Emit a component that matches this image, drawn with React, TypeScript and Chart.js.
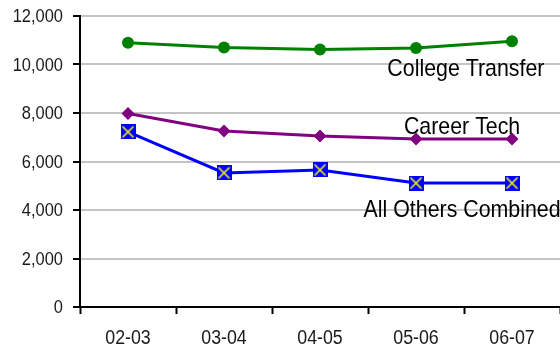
import { useEffect, useRef } from "react";
import { Chart, registerables } from "chart.js";
Chart.register(...registerables);

const categories = ["02-03", "03-04", "04-05", "05-06", "06-07"];
const collegeTransfer = [10900, 10700, 10620, 10680, 10960];
const careerTech = [7980, 7260, 7050, 6930, 6930];
const allOthers = [7220, 5530, 5650, 5110, 5110];
const seriesNames = ["College Transfer", "Career Tech", "All Others Combined"];
// label anchors: [category position, value]
const labelAnchors: [number, number][] = [
  [3.52, 9780],
  [3.48, 7400],
  [3.48, 3980],
];

const FONT = "'Liberation Sans', Arial, sans-serif";
const SQUEEZE = 0.89;

function makeXSquare(): HTMLCanvasElement {
  const c = document.createElement("canvas");
  c.width = 15;
  c.height = 15;
  const ctx = c.getContext("2d")!;
  ctx.fillStyle = "#0000ff";
  ctx.fillRect(0, 0, 15, 15);
  ctx.strokeStyle = "#ffff00";
  ctx.lineWidth = 1.5;
  ctx.beginPath();
  ctx.moveTo(2, 2);
  ctx.lineTo(13, 13);
  ctx.moveTo(13, 2);
  ctx.lineTo(2, 13);
  ctx.stroke();
  return c;
}

function squeezedText(ctx: CanvasRenderingContext2D, text: string, x: number, y: number) {
  ctx.save();
  ctx.translate(x, y);
  ctx.scale(SQUEEZE, 1);
  ctx.fillText(text, 0, 0);
  ctx.restore();
}

export default function App() {
  const ref = useRef<HTMLCanvasElement>(null);
  useEffect(() => {
    document.body.style.margin = "0";
    const textPlugin = {
      id: "squeezedTexts",
      afterDraw(chart: any) {
        const ctx = chart.ctx as CanvasRenderingContext2D;
        const xs = chart.scales.x;
        const ys = chart.scales.y;
        ctx.save();
        ctx.fillStyle = "#1a1a1a";
        // y tick labels
        ctx.font = "18.5px " + FONT;
        ctx.textAlign = "right";
        ctx.textBaseline = "middle";
        ys.ticks.forEach((t: any, i: number) => {
          squeezedText(ctx, Number(t.value).toLocaleString("en-US"), ys.right - 17, ys.getPixelForTick(i) + 1);
        });
        // x tick labels
        ctx.font = "20px " + FONT;
        ctx.textAlign = "center";
        ctx.textBaseline = "middle";
        categories.forEach((c, i) => {
          squeezedText(ctx, c, xs.getPixelForValue(i), xs.top + 31);
        });
        // series labels
        ctx.fillStyle = "#000";
        ctx.font = "24px " + FONT;
        seriesNames.forEach((name, i) => {
          const [pos, val] = labelAnchors[i];
          const step = xs.getPixelForValue(1) - xs.getPixelForValue(0);
          const x = xs.getPixelForValue(0) + pos * step;
          squeezedText(ctx, name, x, ys.getPixelForValue(val));
        });
        ctx.restore();
      },
    };
    const chart = new Chart(ref.current!, {
      type: "line",
      data: {
        labels: categories,
        datasets: [
          {
            label: seriesNames[0],
            data: collegeTransfer,
            borderColor: "#008000",
            backgroundColor: "#008000",
            borderWidth: 3,
            pointStyle: "circle",
            pointRadius: 6,
            pointBorderWidth: 0,
          },
          {
            label: seriesNames[1],
            data: careerTech,
            borderColor: "#800080",
            backgroundColor: "#800080",
            borderWidth: 3,
            pointStyle: "rectRot",
            pointRadius: 6.5,
            pointBorderWidth: 0,
          },
          {
            label: seriesNames[2],
            data: allOthers,
            borderColor: "#0000ff",
            backgroundColor: "#0000ff",
            borderWidth: 3,
            pointStyle: makeXSquare() as any,
            pointRadius: 7,
          },
        ],
      },
      options: {
        animation: false,
        responsive: false,
        layout: { autoPadding: false, padding: { top: 16, right: 0, left: 0, bottom: 0 } },
        plugins: { legend: { display: false }, tooltip: { enabled: false } },
        scales: {
          x: {
            offset: true,
            grid: {
              offset: true,
              drawOnChartArea: false,
              drawTicks: true,
              tickLength: 7,
              tickWidth: 2,
              tickColor: "#000",
            },
            border: { color: "#000", width: 2 },
            ticks: { display: false },
            afterFit: (s: any) => {
              s.height = 42;
              s.paddingLeft = 0;
              s.paddingRight = 0;
            },
          },
          y: {
            min: 0,
            max: 12000,
            ticks: { stepSize: 2000, display: false },
            grid: { color: "#c4c4c4", lineWidth: 2, tickLength: 7, tickColor: "#000", tickWidth: 2 },
            border: { color: "#000", width: 2 },
            afterFit: (s: any) => {
              s.width = 80;
              s.paddingTop = 0;
              s.paddingBottom = 0;
            },
          },
        },
      },
      plugins: [textPlugin],
    });
    return () => chart.destroy();
  }, []);
  return (
    <div style={{ position: "absolute", left: 0, top: 0, width: 560, height: 349 }}>
      <canvas ref={ref} width={560} height={349} style={{ width: 560, height: 349 }} />
    </div>
  );
}
